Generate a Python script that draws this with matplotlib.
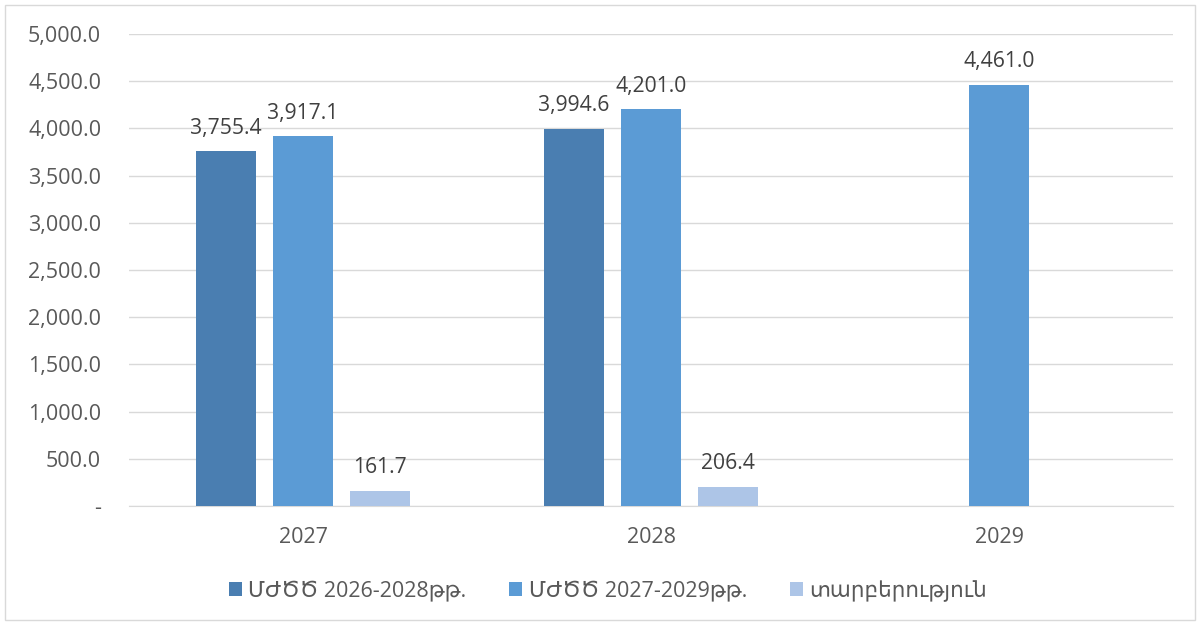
import numpy as np
import matplotlib
matplotlib.use("Agg")
import matplotlib.pyplot as plt
from matplotlib.patches import Rectangle
from matplotlib.ticker import FuncFormatter

plt.rcParams['font.family'] = ['Open Sans', 'DejaVu Sans']

years = ["2027", "2028", "2029"]
series_names = ["ՄԺԾԾ 2026-2028թթ.", "ՄԺԾԾ 2027-2029թթ.", "տարբերություն"]
mtef_2026 = [3755.4, 3994.6, np.nan]
mtef_2027 = [3917.1, 4201.0, 4461.0]
difference = [161.7, 206.4, np.nan]
colors = ["#4A7EB1", "#5B9BD5", "#ADC5E7"]

fig = plt.figure(figsize=(12, 6.25), dpi=100)
fig.patches.append(Rectangle((5 / 1200, 5 / 625), 1190 / 1200, 615 / 625,
                             transform=fig.transFigure, fill=False,
                             edgecolor="#D9D9D9", linewidth=1.0))
ax = fig.add_axes([129 / 1200, 1 - 506 / 625, (1173 - 129) / 1200, (506 - 34) / 625])

x = np.arange(len(years))
width = 0.174
step = 0.221
text_color = "#595959"
label_color = "#404040"

for i, (vals, name, col) in enumerate(zip([mtef_2026, mtef_2027, difference], series_names, colors)):
    pos = x + (i - 1) * step
    ax.bar(pos, vals, width=width, color=col, label=name, zorder=3)
    for p, v in zip(pos, vals):
        if np.isnan(v):
            continue
        ax.annotate(f"{v:,.1f}", (p, v), xytext=(0, 9), textcoords="offset points",
                    ha="center", va="bottom", fontsize=15.2, color=label_color)

ax.set_xlim(-0.5, len(years) - 0.5)
ax.set_ylim(0, 5000)
ax.set_yticks(np.arange(0, 5001, 500))
ax.yaxis.set_major_formatter(FuncFormatter(lambda v, _: "-" if v == 0 else f"{v:,.1f}"))
ax.set_xticks(x)
ax.set_xticklabels(years)
ax.grid(axis="y", color="#D9D9D9", linewidth=1.0, zorder=0)
for s in ["top", "right", "left"]:
    ax.spines[s].set_visible(False)
ax.spines["bottom"].set_color("#D9D9D9")
ax.tick_params(axis="both", length=0, labelsize=15.5, colors=text_color)
ax.tick_params(axis="y", pad=20)
ax.tick_params(axis="x", pad=15)

leg = fig.legend(loc="center", bbox_to_anchor=(608 / 1200, 1 - 591 / 625), ncol=3,
                 frameon=False, fontsize=15.5, handlelength=0.6, handleheight=0.6,
                 columnspacing=2.0, handletextpad=0.3)
for t in leg.get_texts():
    t.set_color(text_color)

fig.savefig("out.png", dpi=100)
